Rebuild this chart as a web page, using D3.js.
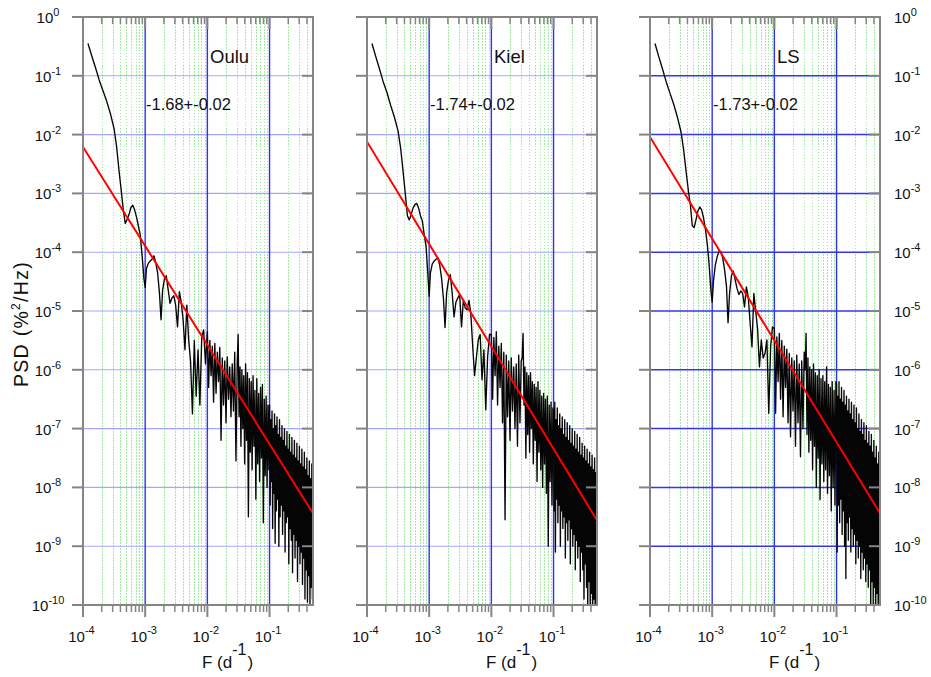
<!DOCTYPE html>
<html><head><meta charset="utf-8">
<script src="https://cdn.jsdelivr.net/npm/d3@7"></script>
<style>
body{margin:0;background:#fff;}
text{font-family:Arial,"Liberation Sans",Helvetica,sans-serif;fill:#111;}
</style>
</head><body>
<svg id="chart" width="931" height="677"></svg>
<script>
// ---------------- data ----------------
const stations = ["Oulu", "Kiel", "LS"];
const slopeLabels = ["-1.68+-0.02", "-1.74+-0.02", "-1.73+-0.02"];
const xTickExps = [-4, -3, -2, -1];
const yTickExps = [0, -1, -2, -3, -4, -5, -6, -7, -8, -9, -10];
const xDomain = [1e-4, 0.5];
const yDomain = [1e-10, 1];

// frequency (log10 of d^-1), shared by the three spectra
const logFreq = [
 -3.92,-3.86,-3.80,-3.74,-3.68,-3.62,-3.56,-3.50,-3.46,-3.42,-3.38,
 -3.35,-3.32,-3.29,-3.26,-3.23,-3.20,-3.17,-3.14,-3.11,-3.08,
 -3.05,-3.02,-3.00,-2.98,-2.95,-2.92,-2.89,-2.86,-2.83,-2.80,
 -2.77,-2.745,-2.72,-2.69,-2.66,-2.63,-2.60,-2.57,-2.54,-2.51,
 -2.48,-2.45,-2.42,-2.39,-2.36,-2.33,-2.30,-2.27,-2.24,-2.21,
 -2.18,-2.15,-2.12,-2.09,-2.06,-2.03,
 -2.00,-1.98,-1.96,-1.94,-1.92,-1.90,-1.88,-1.86,-1.84,-1.82,
 -1.80,-1.78,-1.76,-1.74,-1.72,-1.70,-1.68,-1.66,-1.64,-1.62,
 -1.60,-1.58,-1.56,-1.54,-1.52,
 -1.505,-1.49,-1.475,-1.46,-1.445,-1.43,-1.415,-1.40,-1.385,-1.37,
 -1.355,-1.34,-1.325,-1.31,-1.295,-1.28,-1.265,-1.25,-1.235,-1.22,
 -1.205,-1.19,-1.175,-1.16,-1.145,-1.13,-1.115,-1.10,-1.085,-1.07,
 -1.055,-1.04,-1.025,-1.01,
 -1.00,-0.99,-0.98,-0.97,-0.96,-0.95,-0.94,-0.93,-0.92,-0.91,
 -0.90,-0.89,-0.88,-0.87,-0.86,-0.85,-0.84,-0.83,-0.82,-0.81,
 -0.80,-0.79,-0.78,-0.77,-0.76,-0.75,-0.74,-0.73,-0.72,-0.71,
 -0.70,-0.69,-0.68,-0.67,-0.66,-0.65,-0.64,-0.63,-0.62,-0.61,
 -0.60,-0.59,-0.58,-0.57,-0.56,-0.55,-0.54,-0.53,-0.52,-0.51,
 -0.50,-0.49,-0.48,-0.47,-0.46,-0.45,-0.44,-0.43,-0.42,-0.41,
 -0.40,-0.39,-0.38,-0.37,-0.36,-0.35,-0.34,-0.33,-0.32,-0.31,
 -0.30
];

// PSD (log10 of %^2/Hz)
const logPsdOulu = [
 -0.45,-0.66,-0.86,-1.07,-1.25,-1.43,-1.64,-1.90,-2.20,-2.62,-3.00,
 -3.30,-3.51,-3.44,-3.36,-3.24,-3.20,-3.28,-3.40,-3.55,-3.70,
 -4.05,-4.45,-4.60,-4.28,-4.19,-4.15,-4.12,-4.06,-4.18,-4.35,
 -4.70,-5.15,-4.65,-4.45,-4.40,-4.64,-4.87,-4.78,-4.74,-4.90,
 -5.27,-4.67,-4.85,-5.15,-5.66,-4.90,-5.50,-5.85,-6.75,-5.50,
 -6.45,-5.66,-6.60,-5.44,-5.32,-5.90,
 -5.35,-6.30,-5.50,-6.10,-5.60,-6.55,-5.55,-6.40,-5.70,-6.20,
 -5.62,-7.20,-5.80,-6.60,-5.85,-6.90,-5.78,-6.50,-5.95,-6.80,
 -5.90,-6.70,-5.70,-7.55,-5.90,
 -5.40,-6.80,-5.95,-7.30,-6.00,-7.00,-6.10,-7.60,-5.90,-7.20,
 -6.05,-8.50,-6.15,-7.40,-6.20,-7.70,-6.10,-7.30,-6.35,-8.20,
 -6.15,-7.60,-6.40,-7.90,-6.30,-7.50,-6.25,-8.60,-6.50,-7.80,
 -6.45,-8.00,-6.60,-7.70,
 -6.60,-8.30,-6.85,-7.90,-6.70,-8.70,-7.00,-8.10,-6.75,-8.95,
 -6.95,-8.40,-6.80,-8.20,-7.10,-9.00,-6.85,-8.50,-7.15,-8.30,
 -6.95,-8.80,-7.20,-8.40,-7.00,-9.10,-7.30,-8.60,-7.05,-8.50,
 -7.35,-9.30,-7.10,-8.70,-7.40,-8.90,-7.15,-9.45,-7.45,-8.80,
 -7.20,-9.20,-7.50,-8.90,-7.25,-9.60,-7.55,-9.00,-7.30,-9.30,
 -7.60,-9.10,-7.35,-9.65,-7.65,-9.20,-7.40,-9.90,-7.70,-9.40,
 -7.50,-9.95,-7.80,-9.50,-7.55,-10.0,-7.85,-9.70,-7.60,-9.90,
 -7.80
];
const logPsdKiel = [
 -0.45,-0.67,-0.88,-1.10,-1.28,-1.50,-1.70,-1.94,-2.22,-2.62,-3.05,
 -3.38,-3.45,-3.36,-3.25,-3.19,-3.17,-3.25,-3.38,-3.47,-3.70,
 -3.90,-4.40,-4.75,-4.35,-4.20,-4.15,-4.12,-4.10,-4.22,-4.45,
 -4.80,-5.28,-4.70,-4.48,-4.38,-4.70,-5.10,-4.85,-4.78,-4.72,
 -5.27,-4.81,-4.95,-4.98,-4.82,-5.05,-5.60,-6.10,-5.78,-5.49,
 -5.40,-6.17,-5.66,-6.68,-5.78,-5.40,
 -5.40,-6.50,-5.45,-6.10,-5.35,-6.60,-5.60,-6.30,-5.55,-6.90,
 -5.70,-8.55,-5.75,-6.80,-5.85,-7.20,-5.80,-6.70,-5.95,-7.00,
 -5.90,-7.30,-5.75,-6.90,-5.85,
 -5.80,-5.38,-6.60,-5.95,-7.50,-6.05,-7.10,-6.10,-7.40,-6.05,
 -7.00,-6.20,-7.60,-6.25,-7.20,-6.30,-7.90,-6.20,-7.40,-6.35,
 -7.70,-6.45,-8.00,-6.40,-7.60,-6.50,-8.10,-6.45,-9.00,-6.60,
 -7.90,-6.55,-8.30,-6.65,
 -6.70,-8.40,-6.55,-9.10,-6.85,-8.20,-6.65,-8.60,-6.95,-8.30,
 -6.75,-9.00,-7.00,-8.40,-6.80,-8.70,-7.10,-8.50,-6.85,-9.20,
 -7.15,-8.60,-6.90,-8.90,-7.20,-8.55,-6.95,-9.30,-7.25,-8.70,
 -7.00,-9.00,-7.30,-8.80,-7.05,-9.40,-7.35,-8.90,-7.10,-9.20,
 -7.40,-9.00,-7.15,-9.60,-7.45,-9.10,-7.25,-9.40,-7.50,-9.90,
 -7.30,-9.30,-7.55,-9.70,-7.35,-10.2,-7.60,-9.60,-7.40,-10.1,
 -7.65,-9.80,-7.45,-10.2,-7.70,-9.90,-7.50,-10.3,-7.75,-10.0,
 -7.60
];
const logPsdLS = [
 -0.45,-0.67,-0.88,-1.10,-1.29,-1.48,-1.70,-1.96,-2.25,-2.62,-2.98,
 -3.20,-3.55,-3.58,-3.45,-3.30,-3.23,-3.28,-3.41,-3.60,-3.85,
 -4.20,-4.65,-4.85,-4.50,-4.22,-4.08,-3.98,-3.99,-4.10,-4.30,
 -4.58,-5.20,-4.70,-4.40,-4.32,-4.47,-4.62,-4.72,-4.66,-4.70,
 -4.93,-4.59,-4.76,-5.20,-5.61,-4.70,-5.00,-5.30,-5.95,-5.49,
 -5.80,-5.72,-5.49,-6.74,-5.61,-5.27,
 -5.30,-6.74,-5.44,-6.20,-5.38,-6.50,-5.50,-6.80,-5.60,-6.30,
 -5.65,-6.90,-5.72,-7.14,-5.80,-6.70,-5.85,-7.30,-5.75,-6.90,
 -5.90,-7.48,-5.85,-7.00,-5.70,
 -6.00,-5.38,-7.10,-5.80,-7.40,-5.95,-7.20,-6.00,-7.70,-5.90,
 -7.30,-6.05,-8.00,-6.10,-7.50,-6.00,-8.21,-6.15,-7.60,-6.10,
 -7.90,-6.20,-7.70,-5.95,-8.10,-6.25,-7.80,-6.30,-8.40,-6.20,
 -8.00,-6.35,-8.30,-6.20,
 -6.25,-9.10,-6.45,-8.30,-6.20,-8.60,-6.50,-8.20,-6.30,-8.80,
 -6.55,-8.40,-6.35,-9.00,-6.60,-9.55,-6.45,-8.60,-6.70,-8.90,
 -6.50,-8.50,-6.75,-9.10,-6.55,-8.70,-6.85,-9.00,-6.60,-8.80,
 -6.90,-9.30,-6.65,-8.90,-7.00,-9.20,-6.75,-9.00,-7.05,-9.55,
 -6.85,-9.10,-7.10,-9.40,-6.90,-9.20,-7.20,-9.60,-6.95,-9.30,
 -7.25,-9.70,-7.05,-9.40,-7.30,-10.1,-7.10,-9.60,-7.40,-10.0,
 -7.20,-9.70,-7.50,-10.2,-7.30,-9.80,-7.60,-10.2,-7.40,-9.90,
 -7.60
];

// fitted power-law lines: endpoints (frequency, log10 PSD)
const fitFreq = [1e-4, 0.5];
const fitLogPsdOulu = [-2.21, -8.44];
const fitLogPsdKiel = [-2.12, -8.56];
const fitLogPsdLS = [-2.04, -8.44];

const spectra = [logPsdOulu, logPsdKiel, logPsdLS];
const fits = [fitLogPsdOulu, fitLogPsdKiel, fitLogPsdLS];

// ---------------- layout ----------------
const svg = d3.select("#chart");
const panelLeft = [83, 367, 650];
const panelW = 230;
const plotTop = 17, plotBottom = 605;
const frameCol = "#858585";
const defs = svg.append("defs");
const px = v => Math.round(v) + 0.5;

stations.forEach((name, i) => {
  const L = panelLeft[i], R = L + panelW;
  const x = d3.scaleLog().domain(xDomain).range([L, R]);
  const y = d3.scaleLog().domain(yDomain).range([plotBottom, plotTop]);
  const g = svg.append("g");

  defs.append("clipPath").attr("id", "clip" + i)
    .append("rect").attr("x", L).attr("y", plotTop).attr("width", panelW).attr("height", plotBottom - plotTop);

  // minor vertical grid (green dotted)
  const minors = [];
  xTickExps.forEach(e => { for (let m = 2; m <= 9; m++) { const v = m * Math.pow(10, e); if (v < xDomain[1] * 0.999) minors.push(v); } });
  g.selectAll(".gmin").data(minors).join("line")
    .attr("x1", d => px(x(d))).attr("x2", d => px(x(d))).attr("y1", plotTop).attr("y2", plotBottom)
    .attr("stroke", "#55d855").attr("stroke-opacity", 0.55).attr("stroke-width", 1).attr("stroke-dasharray", "1.5,1.5")
    .attr("shape-rendering", "crispEdges");

  // horizontal grid
  const hMajors = yTickExps.filter(e => e < 0 && e > -10).map(e => Math.pow(10, e));
  g.selectAll(".gh").data(hMajors).join("line")
    .attr("x1", L).attr("x2", R).attr("y1", d => y(d)).attr("y2", d => y(d))
    .attr("stroke", i === 2 ? "#3535f0" : "#a6a6ff").attr("stroke-width", i === 2 ? 1.5 : 1.1);

  // vertical major grid
  const vMajors = xTickExps.filter(e => e > -4).map(e => Math.pow(10, e));
  g.selectAll(".gv").data(vMajors).join("line")
    .attr("x1", d => x(d)).attr("x2", d => x(d)).attr("y1", plotTop).attr("y2", plotBottom)
    .attr("stroke", "#3030f5").attr("stroke-width", 1.4);

  // spectrum
  const n = Math.min(logFreq.length, spectra[i].length);
  const pts = d3.range(n).map(k => ({ f: Math.pow(10, logFreq[k]), p: Math.pow(10, spectra[i][k]) }));
  const line = d3.line().x(d => x(d.f)).y(d => y(d.p));
  g.append("path").datum(pts).attr("clip-path", "url(#clip" + i + ")")
    .attr("d", line).attr("fill", "none").attr("stroke", "#050505").attr("stroke-width", 1.35)
    .attr("stroke-linejoin", "round");

  // fit line
  const fitPts = fitFreq.map((f, k) => ({ f: f, p: Math.pow(10, fits[i][k]) }));
  g.append("path").datum(fitPts).attr("clip-path", "url(#clip" + i + ")")
    .attr("d", line).attr("fill", "none").attr("stroke", "#ff0000").attr("stroke-width", 2);

  // frame
  g.append("rect").attr("x", L).attr("y", plotTop).attr("width", panelW).attr("height", plotBottom - plotTop)
    .attr("fill", "none").attr("stroke", frameCol).attr("stroke-width", 2);

  // y ticks: outward on left, inward on right
  const yVals = yTickExps.map(e => Math.pow(10, e));
  g.selectAll(".ytl").data(yVals).join("line")
    .attr("x1", L - 11).attr("x2", L).attr("y1", d => y(d)).attr("y2", d => y(d))
    .attr("stroke", frameCol).attr("stroke-width", 2);
  g.selectAll(".ytr").data(yVals).join("line")
    .attr("x1", R - 11).attr("x2", R).attr("y1", d => y(d)).attr("y2", d => y(d))
    .attr("stroke", frameCol).attr("stroke-width", 2);

  // x ticks: inward on top, outward on bottom
  const xMaj = xTickExps.map(e => Math.pow(10, e));
  g.selectAll(".xtt").data(xMaj).join("line")
    .attr("x1", d => x(d)).attr("x2", d => x(d)).attr("y1", plotTop).attr("y2", plotTop + 12)
    .attr("stroke", frameCol).attr("stroke-width", 2);
  g.selectAll(".xtb").data(xMaj).join("line")
    .attr("x1", d => x(d)).attr("x2", d => x(d)).attr("y1", plotBottom).attr("y2", plotBottom + 12)
    .attr("stroke", frameCol).attr("stroke-width", 2);
  g.selectAll(".xmt").data(minors).join("line")
    .attr("x1", d => x(d)).attr("x2", d => x(d)).attr("y1", plotTop).attr("y2", plotTop + 7)
    .attr("stroke", frameCol).attr("stroke-width", 1.5);
  g.selectAll(".xmb").data(minors).join("line")
    .attr("x1", d => x(d)).attr("x2", d => x(d)).attr("y1", plotBottom).attr("y2", plotBottom + 7)
    .attr("stroke", frameCol).attr("stroke-width", 1.5);

  // x tick labels
  xTickExps.forEach(e => {
    const t = g.append("text").attr("x", x(Math.pow(10, e)) - 1.5).attr("y", 642)
      .attr("text-anchor", "middle").attr("font-size", 15).text("10");
    t.append("tspan").attr("dy", -8).attr("font-size", 11).text(e);
  });

  // y tick labels (left of first panel, right of last)
  if (i === 0 || i === 2) {
    yTickExps.forEach(e => {
      const t = g.append("text")
        .attr("x", i === 0 ? 48 : 894).attr("y", y(Math.pow(10, e)) + 6)
        .attr("text-anchor", i === 0 ? "middle" : "start").attr("font-size", 15).text("10");
      t.append("tspan").attr("dy", -7).attr("font-size", 11).text(e);
    });
  }

  // x axis title F (d^-1)
  const xt = g.append("text").attr("x", L + 119).attr("y", 668).attr("font-size", 17).text("F (d");
  xt.append("tspan").attr("dy", -13).attr("font-size", 16).text("-1");
  xt.append("tspan").attr("dy", 13).attr("dx", 1).attr("font-size", 17).text(")");

  // station name and slope
  g.append("text").attr("x", L + 127).attr("y", 63).attr("font-size", 18.5).text(name);
  g.append("text").attr("x", L + 63).attr("y", 110).attr("font-size", 16.5).text(slopeLabels[i]);
});

// y axis title
const yt = svg.append("text").attr("transform", "translate(28,324) rotate(-90)")
  .attr("text-anchor", "middle").attr("font-size", 19.5).attr("letter-spacing", 1.3).text("PSD (%");
yt.append("tspan").attr("dy", -8).attr("font-size", 12).text("2");
yt.append("tspan").attr("dy", 8).attr("font-size", 19.5).text("/Hz)");
</script>
</body></html>
